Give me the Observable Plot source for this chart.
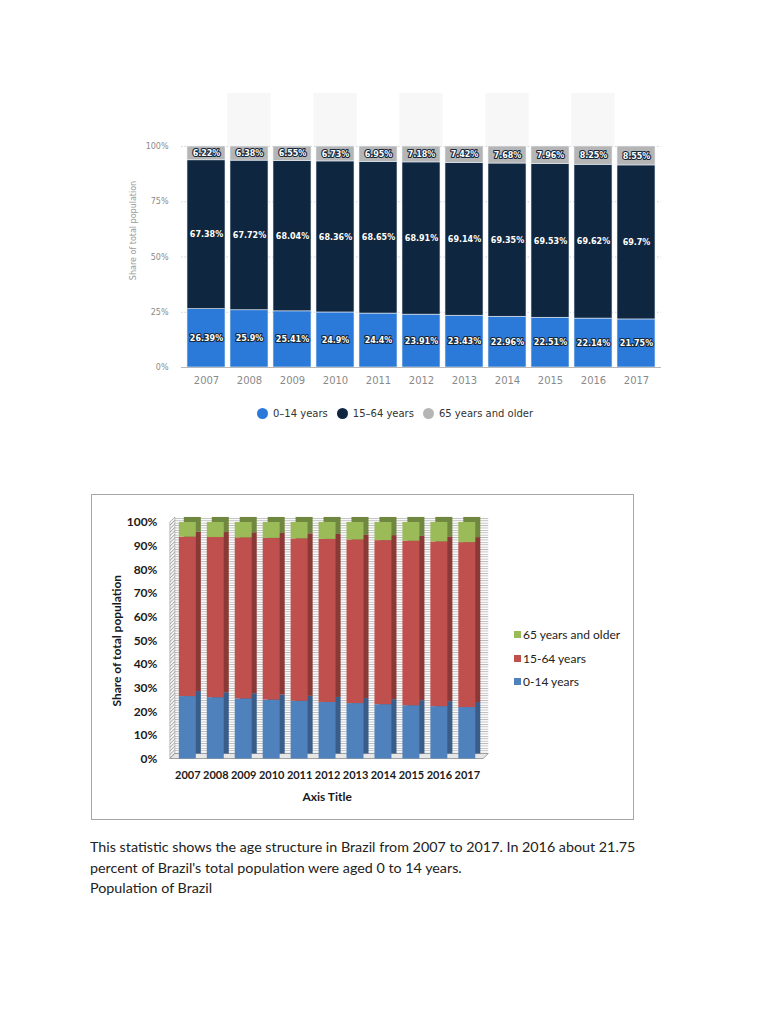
<!DOCTYPE html>
<html><head><meta charset="utf-8">
<script src="https://cdn.jsdelivr.net/npm/d3@7"></script>
<script src="https://cdn.jsdelivr.net/npm/@observablehq/plot@0.6"></script>
<style>
body{margin:0;background:#fff;}
#page{position:relative;width:768px;height:1024px;overflow:hidden;background:#fff;}
#stat{position:absolute;left:120px;top:85px;}
#statLegend{position:absolute;left:257px;top:408px;display:flex;align-items:center;font-family:"DejaVu Sans";font-size:10px;color:#333;white-space:nowrap;}
#statLegend .it{display:flex;align-items:center;margin-right:9px;}
#statLegend .dot{width:11px;height:11px;border-radius:50%;margin-right:5px;}
#xlBox{position:absolute;left:91px;top:494px;width:541px;height:324px;border:1px solid #a6a6a6;}
#xl{position:absolute;left:-1px;top:-1px;}
#xlLegend{position:absolute;left:422px;top:128px;font-family:Lato;font-size:12px;color:#222;}
#xlLegend .it{display:flex;align-items:center;height:23.5px;}
#xlLegend .sq{width:7px;height:7px;margin-right:2px;}
#caption{position:absolute;left:90px;top:837px;font-family:Lato;font-size:14.3px;line-height:20.5px;color:#222;white-space:nowrap;}
</style></head>
<body><div id="page">
<div id="stat"></div>
<div id="statLegend"></div>
<div id="xlBox"><div id="xl"></div><div id="xlLegend"></div></div>
<div id="caption">This statistic shows the age structure in Brazil from 2007 to 2017. In 2016 about 21.75<br>percent of Brazil's total population were aged 0 to 14 years.<br>Population of Brazil</div>
</div>
<script>
const years = ["2007","2008","2009","2010","2011","2012","2013","2014","2015","2016","2017"];
const ageGroups = ["0–14 years","15–64 years","65 years and older"];
const excelGroups = ["0-14 years","15-64 years","65 years and older"];
const share0to14 = [26.39,25.9,25.41,24.9,24.4,23.91,23.43,22.96,22.51,22.14,21.75];
const share15to64 = [67.38,67.72,68.04,68.36,68.65,68.91,69.14,69.35,69.53,69.62,69.7];
const share65plus = [6.22,6.38,6.55,6.73,6.95,7.18,7.42,7.68,7.96,8.25,8.55];
const yTicksStatista = [0,25,50,75,100];
const yTicksExcel = [0,10,20,30,40,50,60,70,80,90,100];

const seriesValues = [share0to14, share15to64, share65plus];
const rows = ageGroups.flatMap((g,i)=>years.map((y,j)=>({year:y, group:g, xlGroup:excelGroups[i], value:seriesValues[i][j]})));

// ---- Statista chart ----
const statColors = ["#2b79d9","#0f2640","#b5b5b5"];
const altYears = years.filter((d,i)=>i%2===1);
const c1 = Plot.plot({
  width:560, height:310, marginLeft:61, marginRight:19, marginTop:8, marginBottom:28,
  style:{fontFamily:"DejaVu Sans", background:"transparent", color:"#8a8a8a"},
  x:{domain:years, padding:0.12, label:null},
  y:{domain:[0,124], label:null},
  color:{domain:ageGroups, range:statColors},
  marks:[
    Plot.barY(altYears, {x:d=>d, y1:100, y2:124, fill:"#f7f7f7", insetLeft:-2.6, insetRight:-2.6}),
    Plot.ruleY(yTicksStatista.filter(d=>d>0), {stroke:"#d0d0d0", strokeDasharray:"1.5,2"}),
    Plot.barY(rows, {x:"year", y:"value", fill:"group", stroke:"#e8eef6", strokeWidth:0.6}),
    Plot.ruleY([0], {stroke:"#b8b8b8"}),
    Plot.axisY(yTicksStatista, {tickSize:0, tickPadding:13, tickFormat:d=>d+"%", fontSize:8, label:null}),
    Plot.axisX({tickSize:0, tickPadding:9, fontSize:10, label:null}),
    Plot.text(rows, Plot.stackY({x:"year", y:"value", z:"group", text:d=>d.value+"%", fill:"white", stroke:"#13263b", strokeWidth:2.2, fontWeight:"bold", fontSize:8})),
    Plot.text(["Share of total population"], {frameAnchor:"left", textAnchor:"middle", dx:-48, rotate:-90, fill:"#9a9a9a", fontSize:8})
  ]
});
document.getElementById("stat").append(c1);

const sl = d3.select("#statLegend");
ageGroups.forEach((g,i)=>{
  const it = sl.append("div").attr("class","it");
  it.append("div").attr("class","dot").style("background", statColors[i]);
  it.append("span").text(g);
});

// ---- Excel chart ----
const xlColors = ["#4f81bd","#c0504d","#9bbb59"];
const depth = 5;
function walls(index, scales, values, dim) {
  const g = d3.create("svg:g");
  const defs = g.append("defs");
  const p1 = defs.append("pattern").attr("id","xlStripes").attr("patternUnits","userSpaceOnUse").attr("width",4).attr("height",2.4);
  p1.append("rect").attr("width",4).attr("height",2.4).attr("fill","#fff");
  p1.append("rect").attr("width",4).attr("height",0.9).attr("fill","#b9b9b9");
  const p2 = defs.append("pattern").attr("id","xlDiag").attr("patternUnits","userSpaceOnUse").attr("width",2.5).attr("height",2.5).attr("patternTransform","rotate(45)");
  p2.append("rect").attr("width",2.5).attr("height",2.5).attr("fill","#fff");
  p2.append("rect").attr("width",1).attr("height",2.5).attr("fill","#a8a8a8");
  const x0 = dim.marginLeft, x1 = dim.width - dim.marginRight;
  const yb = scales.y(0), yt = scales.y(100);
  g.append("rect").attr("x",x0+depth).attr("y",yt-depth).attr("width",x1-x0).attr("height",yb-yt).attr("fill","url(#xlStripes)");
  g.append("polygon").attr("points",[[x0,yt],[x0+depth,yt-depth],[x0+depth,yb-depth],[x0,yb]].join(" ")).attr("fill","url(#xlDiag)").attr("stroke","#999").attr("stroke-width",0.6);
  g.append("polygon").attr("points",[[x0,yb],[x1,yb],[x1+depth,yb-depth],[x0+depth,yb-depth]].join(" ")).attr("fill","#e6e6e6").attr("stroke","#8c8c8c").attr("stroke-width",0.8);
  return g.node();
}
const c2 = Plot.plot({
  width:543, height:326, marginLeft:79, marginRight:150, marginTop:28, marginBottom:61,
  style:{fontFamily:"Lato", background:"transparent", color:"#1a1a1a", fontWeight:"bold"},
  x:{domain:years, paddingInner:0.4, paddingOuter:0.2, label:null},
  y:{domain:[0,100], label:null},
  color:{domain:excelGroups, range:xlColors},
  marks:[
    walls,
    Plot.barY(rows, {x:"year", y:"value", fill:"xlGroup", dx:depth, dy:-depth}),
    Plot.barY(rows, {x:"year", y:"value", fill:"black", fillOpacity:0.28, dx:depth, dy:-depth}),
    Plot.barY(rows, {x:"year", y:"value", fill:"xlGroup"}),
    Plot.axisY(yTicksExcel, {tickSize:0, tickPadding:13, tickFormat:d=>d+"%", fontSize:12, label:null}),
    Plot.axisX({tickSize:0, tickPadding:12, fontSize:11, label:null}),
    Plot.text(["Axis Title"], {frameAnchor:"bottom", dy:42, fontSize:12, fontWeight:"bold", fill:"#1a1a1a"}),
    Plot.text(["Share of total population"], {frameAnchor:"left", textAnchor:"middle", dx:-53, rotate:-90, fontSize:12, fontWeight:"bold", fill:"#1a1a1a"})
  ]
});
document.getElementById("xl").append(c2);

const xlLeg = d3.select("#xlLegend");
[2,1,0].forEach(i=>{
  const it = xlLeg.append("div").attr("class","it");
  it.append("div").attr("class","sq").style("background", xlColors[i]);
  it.append("span").text(excelGroups[i]);
});
</script>
</body></html>
